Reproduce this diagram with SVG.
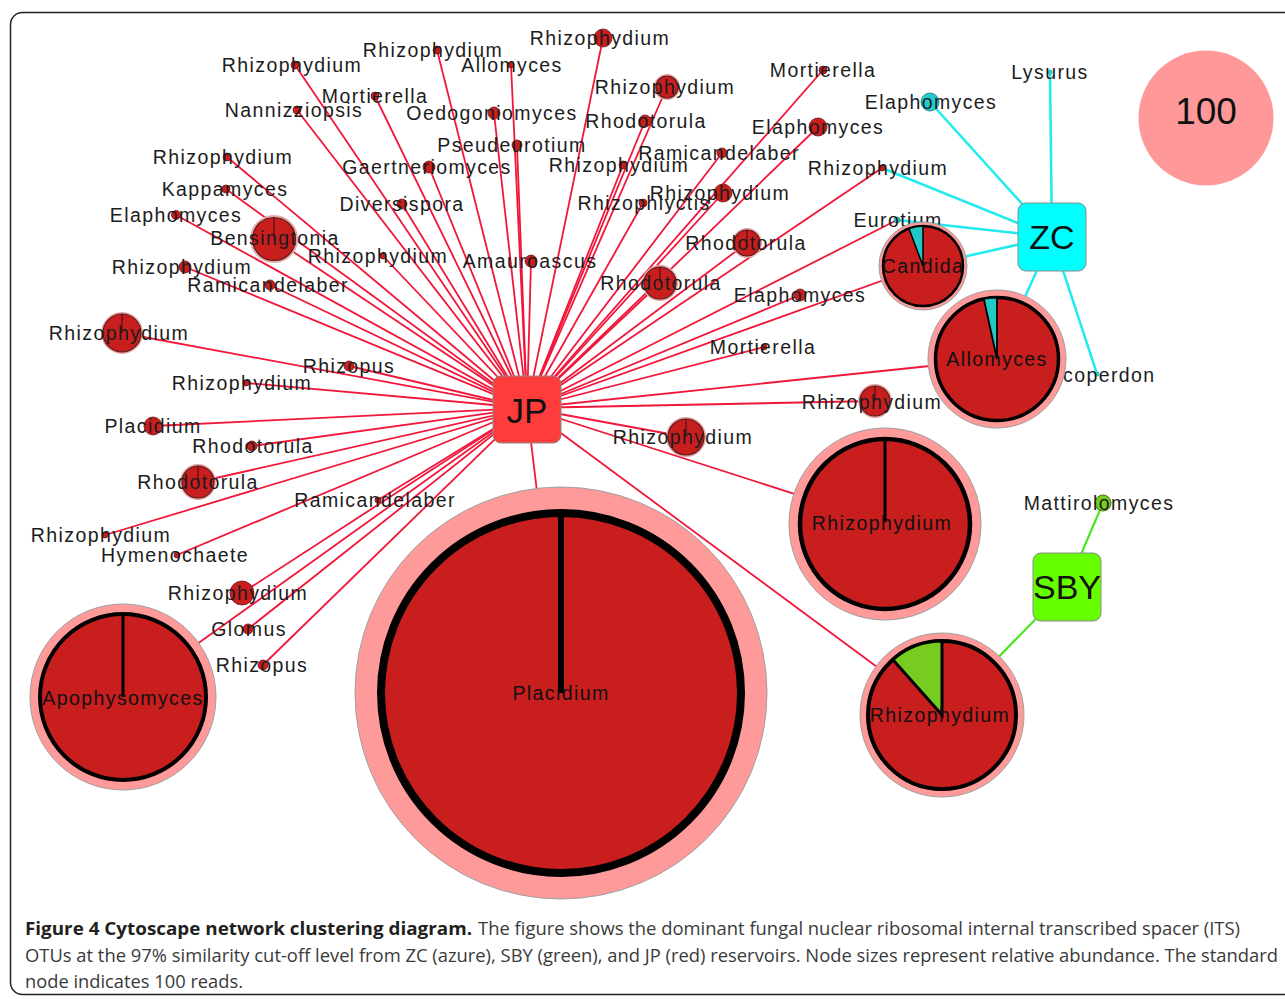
<svg xmlns="http://www.w3.org/2000/svg" width="1285" height="999" viewBox="0 0 1285 999">
<style>
.e{stroke:#f2163a;stroke-width:1.8;fill:none}
.ec{stroke:#22eaee;stroke-width:2.5;fill:none}
.eg{stroke:#44e820;stroke-width:2.2;fill:none}
.dot{fill:#c81e1e;stroke:#701414;stroke-width:0.8}
.pie{fill:#c81e1e;stroke:#5a1a1a;stroke-width:1.2}
.halo{fill:none;stroke:#e8a8a8;stroke-width:2}
.pl{stroke:#3a0a0a;stroke-width:1}
.pink{fill:#ff9a9a;stroke:#a0a0a0;stroke-width:1}
.ring{fill:#c81e1e;stroke:#000}
.lbl{font-family:"Liberation Sans",Arial,sans-serif;font-size:19.5px;letter-spacing:1.4px;fill:#1c1c1c;text-anchor:middle;dominant-baseline:central}
.big{font-family:"Liberation Sans",Arial,sans-serif;fill:#111;text-anchor:middle;dominant-baseline:central}
.cap{font-family:"Open Sans","Noto Sans",sans-serif;font-size:18px;fill:#3a3a3a}
.capb{font-family:"Open Sans","Noto Sans",sans-serif;font-size:18px;font-weight:bold;fill:#231f20}
</style>
<rect x="10.5" y="12.5" width="1300" height="982" rx="12" fill="#fff" stroke="#222" stroke-width="1.5"/>
<g id="connectors">
<g class="e">
<line x1="527" y1="408" x2="295" y2="65"/>
<line x1="527" y1="408" x2="297" y2="110"/>
<line x1="527" y1="408" x2="227" y2="157"/>
<line x1="527" y1="408" x2="226" y2="189"/>
<line x1="527" y1="408" x2="176" y2="215"/>
<line x1="527" y1="408" x2="274" y2="239"/>
<line x1="527" y1="408" x2="185" y2="267"/>
<line x1="527" y1="408" x2="270" y2="285"/>
<line x1="527" y1="408" x2="437" y2="50"/>
<line x1="527" y1="408" x2="511" y2="65"/>
<line x1="527" y1="408" x2="375" y2="96"/>
<line x1="527" y1="408" x2="494" y2="113"/>
<line x1="527" y1="408" x2="517" y2="145"/>
<line x1="527" y1="408" x2="429" y2="167"/>
<line x1="527" y1="408" x2="402" y2="204"/>
<line x1="527" y1="408" x2="383" y2="256"/>
<line x1="527" y1="408" x2="531" y2="261"/>
<line x1="527" y1="408" x2="603" y2="38"/>
<line x1="527" y1="408" x2="667" y2="87"/>
<line x1="527" y1="408" x2="645" y2="121"/>
<line x1="527" y1="408" x2="623" y2="165"/>
<line x1="527" y1="408" x2="643" y2="203"/>
<line x1="527" y1="408" x2="723" y2="193"/>
<line x1="527" y1="408" x2="722" y2="153"/>
<line x1="527" y1="408" x2="747" y2="243"/>
<line x1="527" y1="408" x2="660" y2="283"/>
<line x1="527" y1="408" x2="800" y2="295"/>
<line x1="527" y1="408" x2="764" y2="347"/>
<line x1="527" y1="408" x2="875" y2="401"/>
<line x1="527" y1="408" x2="686" y2="437"/>
<line x1="527" y1="408" x2="823" y2="70"/>
<line x1="527" y1="408" x2="818" y2="127"/>
<line x1="527" y1="408" x2="882" y2="168"/>
<line x1="527" y1="408" x2="897" y2="220"/>
<line x1="527" y1="408" x2="923" y2="266"/>
<line x1="527" y1="408" x2="997" y2="359"/>
<line x1="527" y1="408" x2="885" y2="523"/>
<line x1="527" y1="408" x2="942" y2="715"/>
<line x1="527" y1="408" x2="561" y2="693"/>
<line x1="527" y1="408" x2="123" y2="697"/>
<line x1="527" y1="408" x2="122" y2="333"/>
<line x1="527" y1="408" x2="349" y2="366"/>
<line x1="527" y1="408" x2="246" y2="383"/>
<line x1="527" y1="408" x2="153" y2="426"/>
<line x1="527" y1="408" x2="252" y2="446"/>
<line x1="527" y1="408" x2="198" y2="482"/>
<line x1="527" y1="408" x2="105" y2="535"/>
<line x1="527" y1="408" x2="177" y2="555"/>
<line x1="527" y1="408" x2="378" y2="500"/>
<line x1="527" y1="408" x2="242" y2="593"/>
<line x1="527" y1="408" x2="248" y2="629"/>
<line x1="527" y1="408" x2="263" y2="665"/>
</g>
<g class="ec">
<line x1="1052" y1="237" x2="930" y2="102"/>
<line x1="1052" y1="237" x2="1050" y2="72"/>
<line x1="1052" y1="237" x2="882" y2="168"/>
<line x1="1052" y1="237" x2="897" y2="220"/>
<line x1="1052" y1="237" x2="923" y2="266"/>
<line x1="1052" y1="237" x2="997" y2="359"/>
<line x1="1052" y1="237" x2="1097" y2="374"/>
</g>
<g class="eg">
<line x1="1067" y1="587" x2="1103" y2="503"/>
<line x1="1067" y1="587" x2="942" y2="715"/>
</g>
</g>

<g id="n-rhizophydium-1"><circle class="dot" cx="295" cy="65" r="4"/><text class="lbl" x="292" y="65">Rhizophydium</text></g>
<g id="n-nannizziopsis"><circle class="dot" cx="297" cy="110" r="4"/><text class="lbl" x="294" y="110">Nannizziopsis</text></g>
<g id="n-rhizophydium-2"><circle class="dot" cx="227" cy="157" r="4"/><text class="lbl" x="223" y="157">Rhizophydium</text></g>
<g id="n-kappamyces"><circle class="dot" cx="226" cy="189" r="4"/><text class="lbl" x="225" y="189">Kappamyces</text></g>
<g id="n-elaphomyces-1"><circle class="dot" cx="176" cy="215" r="4.5"/><text class="lbl" x="176" y="215">Elaphomyces</text></g>
<g id="n-bensingtonia"><circle class="halo" cx="274" cy="239" r="23"/><circle class="pie" cx="274" cy="239" r="21.5"/><line class="pl" x1="274" y1="217.5" x2="274" y2="239"/><text class="lbl" x="275" y="238">Bensingtonia</text></g>
<g id="n-rhizophydium-3"><circle class="dot" cx="185" cy="267" r="6"/><text class="lbl" x="182" y="267">Rhizophydium</text></g>
<g id="n-ramicandelaber-1"><circle class="dot" cx="270" cy="285" r="5"/><text class="lbl" x="268" y="285">Ramicandelaber</text></g>
<g id="n-rhizophydium-4"><circle class="dot" cx="437" cy="50" r="4"/><text class="lbl" x="433" y="50">Rhizophydium</text></g>
<g id="n-allomyces-1"><circle class="dot" cx="511" cy="65" r="3"/><text class="lbl" x="512" y="65">Allomyces</text></g>
<g id="n-mortierella-1"><circle class="dot" cx="375" cy="96" r="4"/><text class="lbl" x="375" y="96">Mortierella</text></g>
<g id="n-oedogoniomyces"><circle class="dot" cx="494" cy="113" r="6"/><text class="lbl" x="492" y="113">Oedogoniomyces</text></g>
<g id="n-pseudeurotium"><circle class="dot" cx="517" cy="145" r="5"/><text class="lbl" x="512" y="145">Pseudeurotium</text></g>
<g id="n-gaertneriomyces"><circle class="dot" cx="429" cy="167" r="6"/><text class="lbl" x="427" y="167">Gaertneriomyces</text></g>
<g id="n-diversispora"><circle class="dot" cx="402" cy="204" r="5"/><text class="lbl" x="402" y="204">Diversispora</text></g>
<g id="n-rhizophydium-5"><circle class="dot" cx="383" cy="256" r="3"/><text class="lbl" x="378" y="256">Rhizophydium</text></g>
<g id="n-amauroascus"><circle class="dot" cx="531" cy="261" r="6"/><text class="lbl" x="530" y="261">Amauroascus</text></g>
<g id="n-rhizophydium-6"><circle class="dot" cx="603" cy="38" r="9"/><text class="lbl" x="600" y="38">Rhizophydium</text></g>
<g id="n-rhizophydium-7"><circle class="halo" cx="667" cy="87" r="12"/><circle class="pie" cx="667" cy="87" r="11"/><text class="lbl" x="665" y="87">Rhizophydium</text></g>
<g id="n-rhodotorula-1"><circle class="dot" cx="645" cy="121" r="6"/><text class="lbl" x="646" y="121">Rhodotorula</text></g>
<g id="n-ramicandelaber-2"><circle class="dot" cx="722" cy="153" r="5"/><text class="lbl" x="719" y="153">Ramicandelaber</text></g>
<g id="n-rhizophydium-8"><circle class="dot" cx="623" cy="165" r="4"/><text class="lbl" x="619" y="165">Rhizophydium</text></g>
<g id="n-rhizophydium-9"><circle class="dot" cx="723" cy="193" r="9"/><text class="lbl" x="720" y="193">Rhizophydium</text></g>
<g id="n-rhizophlyctis"><circle class="dot" cx="643" cy="203" r="4"/><text class="lbl" x="644" y="203">Rhizophlyctis</text></g>
<g id="n-rhodotorula-2"><circle class="halo" cx="747" cy="243" r="14"/><circle class="pie" cx="747" cy="243" r="13"/><line class="pl" x1="747" y1="230" x2="747" y2="243"/><text class="lbl" x="746" y="243">Rhodotorula</text></g>
<g id="n-rhodotorula-3"><circle class="halo" cx="660" cy="283" r="17"/><circle class="pie" cx="660" cy="283" r="16"/><line class="pl" x1="660" y1="267" x2="660" y2="283"/><text class="lbl" x="661" y="283">Rhodotorula</text></g>
<g id="n-elaphomyces-2"><circle class="dot" cx="800" cy="295" r="6"/><text class="lbl" x="800" y="295">Elaphomyces</text></g>
<g id="n-mortierella-2"><circle class="dot" cx="764" cy="347" r="3"/><text class="lbl" x="763" y="347">Mortierella</text></g>
<g id="n-rhizophydium-10"><circle class="halo" cx="686" cy="437" r="19"/><circle class="pie" cx="686" cy="437" r="18"/><line class="pl" x1="686" y1="419" x2="686" y2="437"/><text class="lbl" x="683" y="437">Rhizophydium</text></g>
<g id="n-mortierella-3"><circle class="dot" cx="823" cy="70" r="4"/><text class="lbl" x="823" y="70">Mortierella</text></g>
<g id="n-elaphomyces-3"><circle class="dot" cx="818" cy="127" r="9"/><text class="lbl" x="818" y="127">Elaphomyces</text></g>
<g id="n-elaphomyces-zc"><circle cx="930" cy="102" r="9" fill="#22cccc" stroke="#117777" stroke-width="0.8"/><text class="lbl" x="931" y="102">Elaphomyces</text></g>
<g id="n-rhizophydium-11"><circle class="dot" cx="882" cy="168" r="3"/><text class="lbl" x="878" y="168">Rhizophydium</text></g>
<g id="n-lysurus"><circle cx="1050" cy="72" r="2.5" fill="#22cccc"/><text class="lbl" x="1050" y="72">Lysurus</text></g>
<g id="n-eurotium"><circle cx="897" cy="220" r="3" fill="#22cccc" stroke="#117777" stroke-width="0.6"/><text class="lbl" x="898" y="220">Eurotium</text></g>
<g id="n-lycoperdon"><circle cx="1097" cy="374" r="2.5" fill="#22cccc"/><text class="lbl" x="1063" y="375" style="text-anchor:start">coperdon</text></g>
<g id="n-rhizophydium-12"><circle class="halo" cx="875" cy="401" r="16"/><circle class="pie" cx="875" cy="401" r="15"/><line class="pl" x1="875" y1="386" x2="875" y2="401"/><text class="lbl" x="872" y="402">Rhizophydium</text></g>
<g id="n-rhizophydium-13"><circle class="halo" cx="122" cy="333" r="20"/><circle class="pie" cx="122" cy="333" r="19"/><line class="pl" x1="122" y1="314" x2="122" y2="333"/><text class="lbl" x="119" y="333">Rhizophydium</text></g>
<g id="n-rhizopus-1"><circle class="dot" cx="349" cy="366" r="5"/><text class="lbl" x="349" y="366">Rhizopus</text></g>
<g id="n-rhizophydium-14"><circle class="dot" cx="246" cy="383" r="3"/><text class="lbl" x="242" y="383">Rhizophydium</text></g>
<g id="n-placidium-small"><circle class="dot" cx="153" cy="426" r="9"/><text class="lbl" x="153" y="426">Placidium</text></g>
<g id="n-rhodotorula-4"><circle class="dot" cx="252" cy="446" r="5"/><text class="lbl" x="253" y="446">Rhodotorula</text></g>
<g id="n-rhodotorula-5"><circle class="halo" cx="198" cy="482" r="17"/><circle class="pie" cx="198" cy="482" r="16"/><line class="pl" x1="198" y1="466" x2="198" y2="482"/><text class="lbl" x="198" y="482">Rhodotorula</text></g>
<g id="n-ramicandelaber-3"><circle class="dot" cx="378" cy="500" r="3"/><text class="lbl" x="375" y="500">Ramicandelaber</text></g>
<g id="n-rhizophydium-15"><circle class="dot" cx="105" cy="535" r="3"/><text class="lbl" x="101" y="535">Rhizophydium</text></g>
<g id="n-hymenochaete"><circle class="dot" cx="177" cy="555" r="3"/><text class="lbl" x="175" y="555">Hymenochaete</text></g>
<g id="n-rhizophydium-16"><circle class="dot" cx="242" cy="593" r="12"/><text class="lbl" x="238" y="593">Rhizophydium</text></g>
<g id="n-glomus"><circle class="dot" cx="248" cy="629" r="5"/><text class="lbl" x="249" y="629">Glomus</text></g>
<g id="n-rhizopus-2"><circle class="dot" cx="263" cy="665" r="5"/><text class="lbl" x="262" y="665">Rhizopus</text></g>
<g id="n-mattirolomyces"><circle cx="1103" cy="503" r="8" fill="#77cc22" stroke="#4a7a14" stroke-width="1"/><text class="lbl" x="1099" y="503">Mattirolomyces</text></g>

<g id="n-candida"><circle class="pink" cx="923" cy="266" r="44"/><circle class="ring" cx="923" cy="266" r="40" stroke-width="2.5"/><path d="M923,266 L923,226 A40,40 0 0,0 908.9,228.6 Z" fill="#22c8c8" stroke="#000" stroke-width="1.5"/><text class="lbl" x="923" y="266" style="fill:#111">Candida</text></g>
<g id="n-allomyces-big"><circle class="pink" cx="997" cy="359" r="69"/><circle class="ring" cx="997" cy="359" r="61.5" stroke-width="3.5"/><path d="M997,359 L997,297.5 A61.5,61.5 0 0,0 983.8,298.9 Z" fill="#22c8c8" stroke="#000" stroke-width="1.8"/><text class="lbl" x="997" y="359" style="fill:#111">Allomyces</text></g>
<g id="n-rhizophydium-big1"><circle class="pink" cx="885" cy="524" r="96"/><circle class="ring" cx="885" cy="524" r="85" stroke-width="4.5"/><line x1="885" y1="439" x2="885" y2="522" stroke="#000" stroke-width="3"/><text class="lbl" x="882" y="523" style="fill:#111">Rhizophydium</text></g>
<g id="n-rhizophydium-big2"><circle class="pink" cx="942" cy="715" r="82"/><circle class="ring" cx="942" cy="715" r="74" stroke-width="4"/><path d="M942,715 L942,641 A74,74 0 0,0 892.9,659.7 Z" fill="#77cc22" stroke="#000" stroke-width="3"/><text class="lbl" x="940" y="715" style="fill:#111">Rhizophydium</text></g>
<g id="n-apophysomyces"><circle class="pink" cx="123" cy="697" r="93"/><circle class="ring" cx="123" cy="697" r="83" stroke-width="4"/><line x1="123" y1="614" x2="123" y2="697" stroke="#000" stroke-width="3"/><text class="lbl" x="123" y="698" style="fill:#111">Apophysomyces</text></g>
<g id="n-placidium-big"><circle class="pink" cx="561" cy="693" r="206"/><circle class="ring" cx="561" cy="693" r="180" stroke-width="8"/><line x1="561" y1="513" x2="561" y2="693" stroke="#000" stroke-width="6"/><text class="lbl" x="561" y="693" style="fill:#111">Placidium</text></g>

<g id="n-jp"><rect x="493" y="376" width="68" height="67" rx="8" fill="#ff3c3c" stroke="#8a8a8a" stroke-width="1"/><text class="big" x="527" y="410" font-size="35">JP</text></g>
<g id="n-zc"><rect x="1018" y="203" width="68" height="68" rx="8" fill="#00ffff" stroke="#8a8a8a" stroke-width="1"/><text class="big" x="1052" y="237" font-size="34">ZC</text></g>
<g id="n-sby"><rect x="1033" y="553" width="68" height="68" rx="8" fill="#66ff00" stroke="#8a8a8a" stroke-width="1"/><text class="big" x="1067" y="587" font-size="34">SBY</text></g>
<g id="n-legend100"><circle cx="1206" cy="118" r="67.5" fill="#ff9999"/><text class="big" x="1206" y="111" font-size="37">100</text></g>

<g id="caption">
<text class="capb" x="25" y="935" textLength="447" lengthAdjust="spacingAndGlyphs">Figure 4 Cytoscape network clustering diagram.</text>
<text class="cap" x="478" y="935" textLength="762" lengthAdjust="spacingAndGlyphs">The figure shows the dominant fungal nuclear ribosomal internal transcribed spacer (ITS)</text>
<text class="cap" x="25" y="962" textLength="1253" lengthAdjust="spacingAndGlyphs">OTUs at the 97% similarity cut-off level from ZC (azure), SBY (green), and JP (red) reservoirs. Node sizes represent relative abundance. The standard</text>
<text class="cap" x="25" y="988" textLength="218" lengthAdjust="spacingAndGlyphs">node indicates 100 reads.</text>
</g>
</svg>
